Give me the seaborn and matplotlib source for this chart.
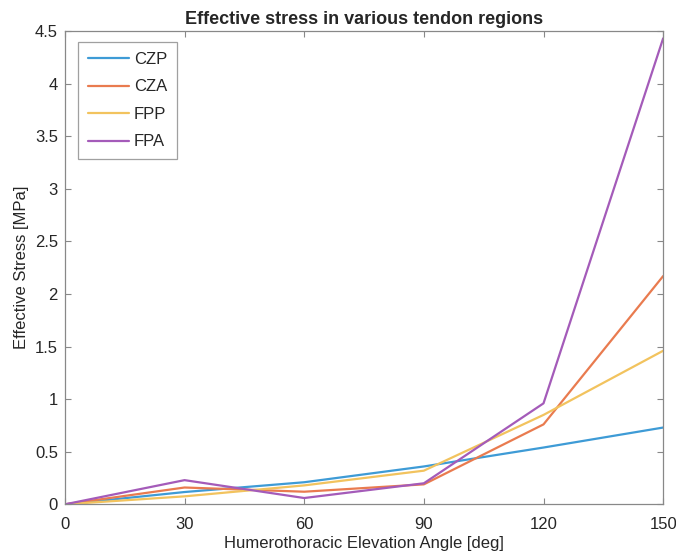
import numpy as np
import pandas as pd
import matplotlib
matplotlib.use("Agg")
import matplotlib.pyplot as plt
import seaborn as sns

angles = [0, 30, 60, 90, 120, 150]
czp = [0, 0.117, 0.21, 0.36, 0.54, 0.73]
cza = [0, 0.16, 0.12, 0.19, 0.76, 2.17]
fpp = [0, 0.076, 0.18, 0.32, 0.85, 1.46]
fpa = [0, 0.23, 0.06, 0.20, 0.96, 4.43]
series_names = ["CZP", "CZA", "FPP", "FPA"]
colors = ["#3E9BD6", "#E97B4F", "#F2C35E", "#A45BB9"]

sns.set_style("white")
plt.rcParams['font.family'] = ['Liberation Sans', 'DejaVu Sans']

rows = []
for name, vals in zip(series_names, [czp, cza, fpp, fpa]):
    for a, v in zip(angles, vals):
        rows.append({"angle": a, "stress": v, "region": name})
df = pd.DataFrame(rows)

fig = plt.figure(figsize=(6.76, 5.53), dpi=100)
ax = fig.add_axes([0.096, 0.088, 0.885, 0.856])
sns.lineplot(data=df, x="angle", y="stress", hue="region", hue_order=series_names,
             palette=colors, linewidth=1.6, ax=ax, legend=True)

ax.set_xlim(0, 150)
ax.set_ylim(0, 4.5)
ax.set_xticks(angles)
ax.set_xticklabels([str(a) for a in angles])
yt = [0, 0.5, 1, 1.5, 2, 2.5, 3, 3.5, 4, 4.5]
ax.set_yticks(yt)
ax.set_yticklabels(["0", "0.5", "1", "1.5", "2", "2.5", "3", "3.5", "4", "4.5"])
ax.tick_params(direction="in", length=4, width=0.8, color="#888888", labelsize=12,
               labelcolor="#262626", top=True, right=True, bottom=True, left=True)
ax.tick_params(axis="x", pad=9)
ax.tick_params(axis="y", pad=5)
for s in ax.spines.values():
    s.set_visible(True)
    s.set_color("#888888")
    s.set_linewidth(0.9)
ax.set_xlabel("Humerothoracic Elevation Angle [deg]", fontsize=12, color="#262626", labelpad=3)
ax.set_ylabel("Effective Stress [MPa]", fontsize=12, color="#262626", labelpad=4)
ax.set_title("Effective stress in various tendon regions", fontsize=13, fontweight="bold", pad=5)

leg = ax.legend(loc="upper left", bbox_to_anchor=(0.022, 0.977), borderaxespad=0,
                fontsize=12, frameon=True, fancybox=False, handlelength=2.45,
                borderpad=0.6, labelspacing=0.75, handletextpad=0.3)
leg.get_frame().set_edgecolor("#888888")
leg.get_frame().set_linewidth(0.9)
leg.set_title(None)

fig.savefig("out.png", dpi=100)
